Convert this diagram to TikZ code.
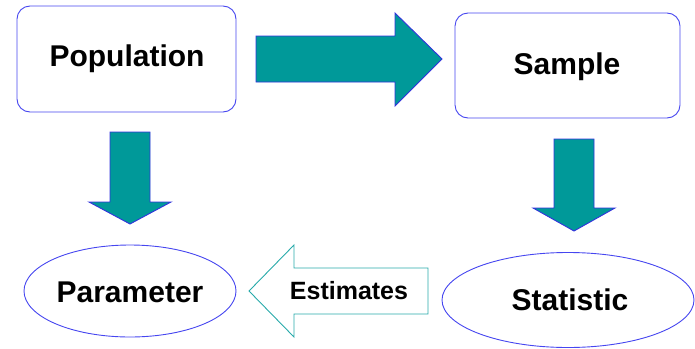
\documentclass[tikz,border=0pt]{standalone}
\usepackage{fontspec}
\setmainfont{Liberation Sans}
\usetikzlibrary{calc}
\definecolor{tealfill}{RGB}{0,153,153}
\definecolor{boxblue}{RGB}{70,70,240}
\definecolor{arrowblue}{RGB}{50,50,220}
\definecolor{tealline}{RGB}{40,170,170}
\tikzset{
  box/.style={draw=boxblue, line width=0.9pt, rounded corners=13pt, fill=white},
  oval/.style={draw=boxblue, line width=0.9pt, fill=white},
  lbl/.style={font=\fontsize{30}{34}\selectfont\bfseries, text=black},
  blockarrow/.style={draw=arrowblue, line width=0.9pt, fill=tealfill},
  hollowarrow/.style={draw=tealline, line width=0.9pt, fill=white},
}
\begin{document}
\begin{tikzpicture}[x=1pt,y=-1pt]
\useasboundingbox (0,0) rectangle (695,348);
% boxes
\draw[box] (17,6) rectangle (236,112);
\node[lbl] (pop) at (127,59) {Population};
\draw[box] (455,13) rectangle (680,118);
\node[lbl] (samp) at (567,67) {Sample};
% ellipses
\draw[oval] (130,291) ellipse [x radius=106, y radius=46];
\node[lbl] (param) at (130,292) {Parameter};
\draw[oval] (568,300) ellipse [x radius=126, y radius=47.5];
\node[lbl] (stat) at (570,300) {Statistic};
% block arrows
\draw[blockarrow] (256,36) -- (395,36) -- (395,13) -- (442,59) -- (395,106) -- (395,82) -- (256,82) -- cycle;
\draw[blockarrow] (110,132) -- (150,132) -- (150,202) -- (171,202) -- (130,224) -- (89,202) -- (110,202) -- cycle;
\draw[blockarrow] (554,139) -- (594,139) -- (594,208) -- (615,208) -- (574,231) -- (533,208) -- (554,208) -- cycle;
% estimates arrow
\draw[hollowarrow] (428,268) -- (294,268) -- (294,245) -- (249,291) -- (294,337) -- (294,314) -- (428,314) -- cycle;
\node[font=\fontsize{25}{30}\selectfont\bfseries] (est) at (349,291) {Estimates};
\end{tikzpicture}
\end{document}
